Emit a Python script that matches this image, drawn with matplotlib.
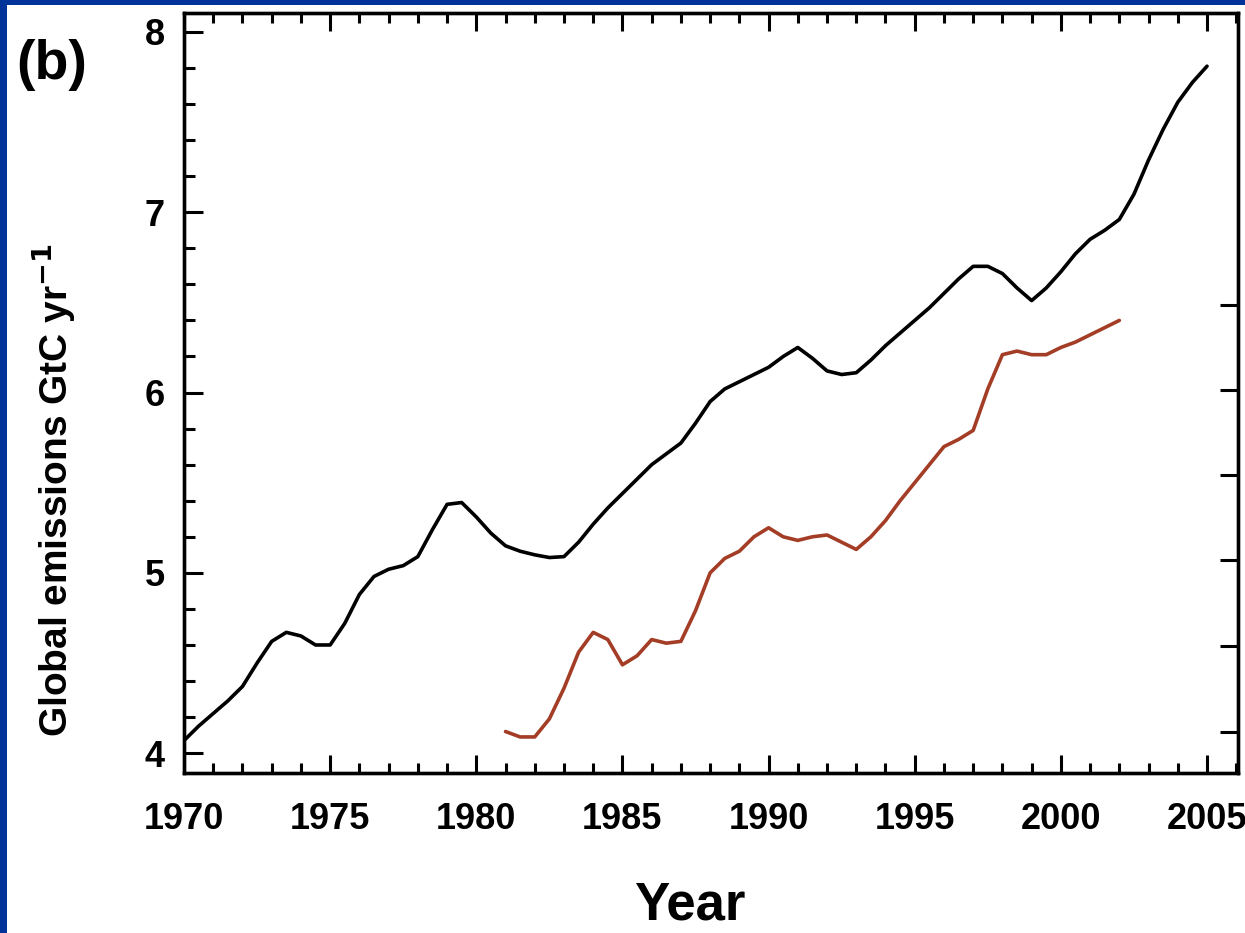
import numpy as np
import matplotlib
matplotlib.use("Agg")
import matplotlib.pyplot as plt
from matplotlib.patches import Rectangle

plt.rcParams['font.family'] = ['Liberation Sans', 'DejaVu Sans']
plt.rcParams['font.weight'] = 'bold'
plt.rcParams['mathtext.default'] = 'bf'

# black curve: global emissions, 1970-2005 (read at half-year steps)
black_years = [1970.0, 1970.5, 1971.0, 1971.5, 1972.0, 1972.5, 1973.0, 1973.5, 1974.0, 1974.5,
               1975.0, 1975.5, 1976.0, 1976.5, 1977.0, 1977.5, 1978.0, 1978.5, 1979.0, 1979.5,
               1980.0, 1980.5, 1981.0, 1981.5, 1982.0, 1982.5, 1983.0, 1983.5, 1984.0, 1984.5,
               1985.0, 1985.5, 1986.0, 1986.5, 1987.0, 1987.5, 1988.0, 1988.5, 1989.0, 1989.5,
               1990.0, 1990.5, 1991.0, 1991.5, 1992.0, 1992.5, 1993.0, 1993.5, 1994.0, 1994.5,
               1995.0, 1995.5, 1996.0, 1996.5, 1997.0, 1997.5, 1998.0, 1998.5, 1999.0, 1999.5,
               2000.0, 2000.5, 2001.0, 2001.5, 2002.0, 2002.5, 2003.0, 2003.5, 2004.0, 2004.5,
               2005.0]
black_vals = [4.07, 4.15, 4.22, 4.29, 4.37, 4.50, 4.62, 4.67, 4.65, 4.60,
              4.60, 4.72, 4.88, 4.98, 5.02, 5.04, 5.09, 5.24, 5.38, 5.39,
              5.31, 5.22, 5.15, 5.12, 5.10, 5.085, 5.09, 5.17, 5.27, 5.36,
              5.44, 5.52, 5.60, 5.66, 5.72, 5.83, 5.95, 6.02, 6.06, 6.10,
              6.14, 6.20, 6.25, 6.19, 6.12, 6.10, 6.11, 6.18, 6.26, 6.33,
              6.40, 6.47, 6.55, 6.63, 6.70, 6.70, 6.66, 6.58, 6.51, 6.58,
              6.67, 6.77, 6.85, 6.90, 6.96, 7.10, 7.29, 7.46, 7.61, 7.72,
              7.81]

# red curve, 1981-2002
red_years = [1981.0, 1981.5, 1982.0, 1982.5, 1983.0, 1983.5, 1984.0, 1984.5, 1985.0, 1985.5,
             1986.0, 1986.5, 1987.0, 1987.5, 1988.0, 1988.5, 1989.0, 1989.5, 1990.0, 1990.5,
             1991.0, 1991.5, 1992.0, 1992.5, 1993.0, 1993.5, 1994.0, 1994.5, 1995.0, 1995.5,
             1996.0, 1996.5, 1997.0, 1997.5, 1998.0, 1998.5, 1999.0, 1999.5, 2000.0, 2000.5,
             2001.0, 2001.5, 2002.0]
red_vals = [4.12, 4.09, 4.09, 4.19, 4.36, 4.56, 4.67, 4.63, 4.49, 4.54,
            4.63, 4.61, 4.62, 4.79, 5.00, 5.08, 5.12, 5.20, 5.25, 5.20,
            5.18, 5.20, 5.21, 5.17, 5.13, 5.20, 5.29, 5.40, 5.50, 5.60,
            5.70, 5.74, 5.79, 6.02, 6.21, 6.23, 6.21, 6.21, 6.25, 6.28,
            6.32, 6.36, 6.40]

x_major = [1970, 1975, 1980, 1985, 1990, 1995, 2000, 2005]
y_major = [4, 5, 6, 7, 8]
right_ticks = [4.117, 4.594, 5.071, 5.542, 6.014, 6.485]

fig = plt.figure(figsize=(12.45, 9.33), dpi=100)
fig.patch.set_facecolor('white')

# blue slide frame at left and top
fig.patches.append(Rectangle((0, 0), 7 / 1245, 1, transform=fig.transFigure,
                             facecolor='#003399', edgecolor='none', zorder=0))
fig.patches.append(Rectangle((0, 1 - 5 / 933), 1, 5 / 933, transform=fig.transFigure,
                             facecolor='#003399', edgecolor='none', zorder=0))

ax = fig.add_axes([184 / 1245, 1 - 773 / 933, (1238 - 184) / 1245, (773 - 13) / 933])
ax.plot(black_years, black_vals, color='black', lw=2.6, solid_joinstyle='round',
        solid_capstyle='round')
ax.plot(red_years, red_vals, color='#a33d26', lw=2.6, solid_joinstyle='round',
        solid_capstyle='round')

ax.set_xlim(1970, 2006.06)
ax.set_ylim(3.89, 8.105)

ax.set_xticks(x_major)
ax.set_xticks(np.arange(1970, 2007, 1), minor=True)
ax.set_yticks(y_major)
ax.set_yticks(np.arange(4, 8.01, 0.2), minor=True)

for s in ax.spines.values():
    s.set_linewidth(2.4)

ax.tick_params(which='both', direction='in', top=True, right=False, width=2.2,
               labelsize=26, colors='black')
ax.tick_params(axis='x', which='major', length=13, pad=21)
ax.tick_params(axis='x', which='minor', length=7)
ax.tick_params(axis='y', which='major', length=14, pad=14)
ax.tick_params(axis='y', which='minor', length=8)
for lab in ax.get_xticklabels() + ax.get_yticklabels():
    lab.set_fontweight('bold')

ax2 = ax.twinx()
ax2.set_ylim(ax.get_ylim())
ax2.set_yticks(right_ticks)
ax2.set_yticklabels([])
ax2.tick_params(axis='y', direction='in', length=13, width=2.2)
for s in ax2.spines.values():
    s.set_linewidth(2.4)

fig.text(52 / 1245, 1 - 65 / 933, '(b)', fontsize=40, fontweight='bold',
         ha='center', va='center')
fig.text(54 / 1245, 1 - 490 / 933, r'Global emissions GtC yr$^{\mathbf{-1}}$',
         fontsize=28, fontweight='bold', rotation=90, ha='center', va='center')
fig.text(690 / 1245, 1 - 905 / 933, 'Year', fontsize=38, fontweight='bold',
         ha='center', va='center')

fig.savefig('out.png', dpi=100, facecolor='white')
